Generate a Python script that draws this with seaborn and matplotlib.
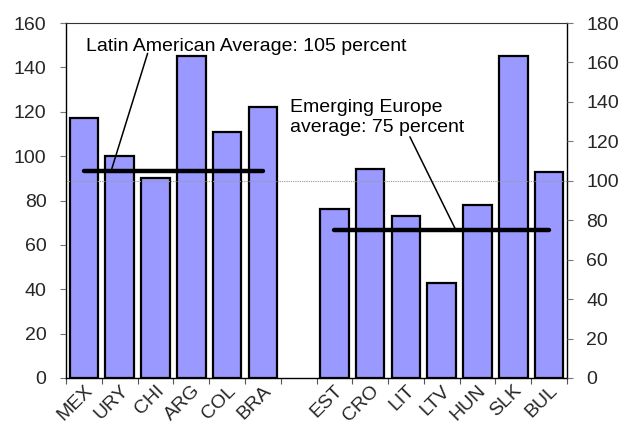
import numpy as np
import pandas as pd
import matplotlib
matplotlib.use("Agg")
import matplotlib.pyplot as plt
import seaborn as sns

# Country groups and their values (left-axis units)
latin = ["MEX", "URY", "CHI", "ARG", "COL", "BRA"]
latin_vals = [117, 100, 90, 145, 111, 122]
europe = ["EST", "CRO", "LIT", "LTV", "HUN", "SLK", "BUL"]
europe_vals = [76, 94, 73, 43, 78, 145, 93]

# Group averages and reference level, in right-axis units (percent)
latin_avg = 105
europe_avg = 75
reference_level = 100

left_max, right_max = 160, 180

sns.set_theme(style="white")
plt.rcParams["font.family"] = ["Liberation Sans", "DejaVu Sans"]

df = pd.DataFrame({"country": latin + europe, "value": latin_vals + europe_vals})
gap = " "
order = latin + [gap] + europe

fig = plt.figure(figsize=(6.25, 4.26), dpi=100)
ax = fig.add_axes([66 / 625, 1 - 378 / 426, 501 / 625, 355 / 426])

sns.barplot(data=df, x="country", y="value", order=order, ax=ax,
            color="#9999FF", saturation=1, width=0.8,
            edgecolor="black", linewidth=1.6)

ax.set_xlim(-0.5, len(order) - 0.5)
ax.set_ylim(0, left_max)
ax.set_xlabel("")
ax.set_ylabel("")

scale = left_max / right_max

# Reference level across the whole chart
ax.axhline(reference_level * scale, color="#999999", lw=0.8, ls=(0, (1, 1)), zorder=1)

# Group average lines, spanning first to last bar of each group
pos = {c: i for i, c in enumerate(order)}
ax.plot([pos[latin[0]], pos[latin[-1]]], [latin_avg * scale] * 2,
        color="black", lw=3.2, solid_capstyle="round", zorder=5)
ax.plot([pos[europe[0]], pos[europe[-1]]], [europe_avg * scale] * 2,
        color="black", lw=3.2, solid_capstyle="round", zorder=5)

# Labels with leader lines
ax.text(0.06, 149.6, f"Latin American Average: {latin_avg} percent",
        fontsize=14, va="center", ha="left", color="black")
ax.plot([1.78, 0.78], [146.3, latin_avg * scale + 1], color="black", lw=1.1, zorder=6)

ax.text(5.76, 117.5, f"Emerging Europe\naverage: {europe_avg} percent",
        fontsize=14, va="center", ha="left", color="black", linespacing=1.25)
ax.plot([9.11, 10.37], [108.7, europe_avg * scale + 0.8], color="black", lw=1.1, zorder=6)

# X axis: ticks between slots, rotated labels
ax.set_xticks(range(len(order)))
ax.set_xticklabels([("" if c == gap else c) for c in order], rotation=45,
                   ha="right", va="top", rotation_mode="anchor", fontsize=14)
ax.set_xticks(np.arange(-0.5, len(order)), minor=True)
ax.tick_params(axis="x", which="major", length=0, pad=3)
ax.tick_params(axis="x", which="minor", length=4, color="#555555", width=0.8, bottom=True)

ax.set_yticks(range(0, left_max + 1, 20))
ax.tick_params(axis="y", which="major", length=4, color="#777777", width=0.8,
               labelsize=14, left=True, pad=10)

for s in ["left", "right", "bottom"]:
    ax.spines[s].set_color("black")
    ax.spines[s].set_linewidth(1.0)
ax.spines["top"].set_color("#333333")
ax.spines["top"].set_linewidth(0.8)

ax2 = ax.twinx()
ax2.set_ylim(0, right_max)
ax2.set_yticks(range(0, right_max + 1, 20))
ax2.tick_params(axis="y", which="major", length=4, color="#777777", width=0.8,
                labelsize=14, right=True, pad=10)
for s in ax2.spines.values():
    s.set_visible(False)
ax2.grid(False)
ax.grid(False)

fig.savefig("out.png", dpi=100)
